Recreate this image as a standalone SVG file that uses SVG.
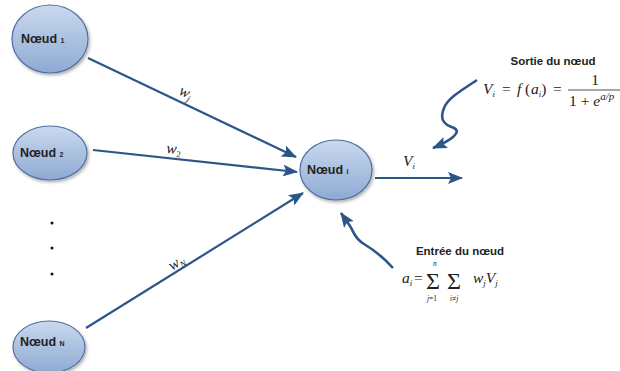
<svg xmlns="http://www.w3.org/2000/svg" width="620" height="371" viewBox="0 0 620 371">
<defs>
<linearGradient id="g" x1="0" y1="0" x2="0" y2="1">
<stop offset="0" stop-color="#cad9ee"/>
<stop offset="1" stop-color="#8eaad3"/>
</linearGradient>
<filter id="sh" x="-20%" y="-20%" width="150%" height="150%">
<feDropShadow dx="1.5" dy="2" stdDeviation="1.5" flood-color="#000" flood-opacity="0.3"/>
</filter>
<marker id="ah" markerUnits="userSpaceOnUse" markerWidth="16" markerHeight="12" refX="14" refY="6" orient="auto">
<path d="M0,0 L15,6 L0,12 L3,6 z" fill="#2c5689"/>
</marker>
</defs>
<style>
.node{fill:url(#g);stroke:#4f6fa0;stroke-width:1.2;filter:url(#sh)}
.lbl{font-family:"Liberation Sans",Arial,sans-serif;font-weight:bold;font-size:12.5px;fill:#222}
.sub{font-size:7px}
.edge{stroke:#2c5689;stroke-width:2.2;fill:none;marker-end:url(#ah)}
.wave{stroke:#2c5689;stroke-width:2.6;fill:none;marker-end:url(#ah)}
.m{font-family:"Liberation Serif","Times New Roman",serif;font-style:italic;font-size:15.5px;fill:#222}
.mr{font-family:"Liberation Serif","Times New Roman",serif;font-style:normal;font-size:15.5px;fill:#222}
.s{font-size:9px}
.lim{font-family:"Liberation Serif","Times New Roman",serif;font-style:italic;font-size:7.5px;fill:#222}
.sig{font-family:"Liberation Serif","Times New Roman",serif;font-size:24px;fill:#222}
.t{font-family:"Liberation Sans",Arial,sans-serif;font-weight:bold;font-size:11.5px;fill:#222}
</style>
<rect width="620" height="371" fill="#fff"/>
<g id="connectors">
<line class="edge" x1="88" y1="58" x2="296" y2="157"/>
<line class="edge" x1="93" y1="150" x2="297" y2="172"/>
<line class="edge" x1="86" y1="328" x2="303" y2="193"/>
<line class="edge" x1="375" y1="178" x2="462" y2="178"/>
<path class="wave" d="M477,80 C462,90 448,98 444,108 C440,118 442,124 454,128 C462,132 452,140 433,148"/>
<path class="wave" d="M393,268 C384,258 374,250 364,244 C354,238 354,232 350,226 L341,213"/>
<text class="m" transform="translate(178,94) rotate(25)">w<tspan class="s" dy="3">j</tspan></text>
<text class="m" transform="translate(166,153) rotate(5)">w<tspan class="s" dy="3" style="font-style:normal">2</tspan></text>
<text class="m" transform="translate(172,271) rotate(-32)">w<tspan class="s" dy="3">N</tspan></text>
<text class="m" x="403" y="166">V<tspan class="s" dy="3">i</tspan></text>
</g>
<g id="node1">
<ellipse class="node" cx="50" cy="39" rx="38" ry="34"/>
<text class="lbl" x="21" y="43">Nœud <tspan class="sub">1</tspan></text>
</g>
<g id="node2">
<ellipse class="node" cx="50" cy="153" rx="37" ry="27"/>
<text class="lbl" x="20" y="157">Nœud <tspan class="sub">2</tspan></text>
</g>
<g id="dots">
<circle cx="52" cy="223" r="1.5" fill="#111"/>
<circle cx="52" cy="248" r="1.5" fill="#111"/>
<circle cx="52" cy="274" r="1.5" fill="#111"/>
</g>
<g id="nodeN">
<ellipse class="node" cx="49" cy="347" rx="36" ry="26"/>
<text class="lbl" x="20" y="346">Nœud <tspan class="sub">N</tspan></text>
</g>
<g id="nodei">
<ellipse class="node" cx="336" cy="170" rx="36" ry="30"/>
<text class="lbl" x="307" y="174">Nœud <tspan class="sub">i</tspan></text>
</g>
<g id="sortie">
<text class="t" x="553" y="65" text-anchor="middle">Sortie du nœud</text>
<text class="m" x="483" y="94">V<tspan class="s" dy="3">i</tspan></text>
<text class="mr" x="502" y="94">=</text>
<text class="m" x="517" y="94">f<tspan class="mr" x="525">(</tspan><tspan x="531">a</tspan><tspan class="s" dy="3">i</tspan><tspan class="mr" dy="-3">)</tspan></text>
<text class="mr" x="553" y="94">=</text>
<text class="mr" x="595" y="85" text-anchor="middle">1</text>
<line x1="568" y1="90" x2="620" y2="90" stroke="#222" stroke-width="0.8"/>
<text class="mr" x="569" y="106" xml:space="preserve">1 + <tspan class="m">e</tspan><tspan class="m" style="font-size:11px" dy="-6">a/p</tspan></text>
</g>
<g id="entree">
<text class="t" x="460" y="255" text-anchor="middle">Entrée du nœud</text>
<text class="m" x="402" y="283">a<tspan class="s" dy="3">i</tspan></text>
<text class="mr" x="414" y="283">=</text>
<text class="sig" x="426" y="289">Σ</text>
<text class="lim" x="433" y="266">n</text>
<text class="lim" x="427" y="301">j<tspan style="font-style:normal">=1</tspan></text>
<text class="sig" x="447" y="289">Σ</text>
<text class="lim" x="450" y="301">i<tspan style="font-style:normal">≠</tspan>j</text>
<text class="m" x="473" y="283">w<tspan class="s" dy="3">j</tspan><tspan dy="-3">V</tspan><tspan class="s" dy="3">j</tspan></text>
</g>
</svg>
